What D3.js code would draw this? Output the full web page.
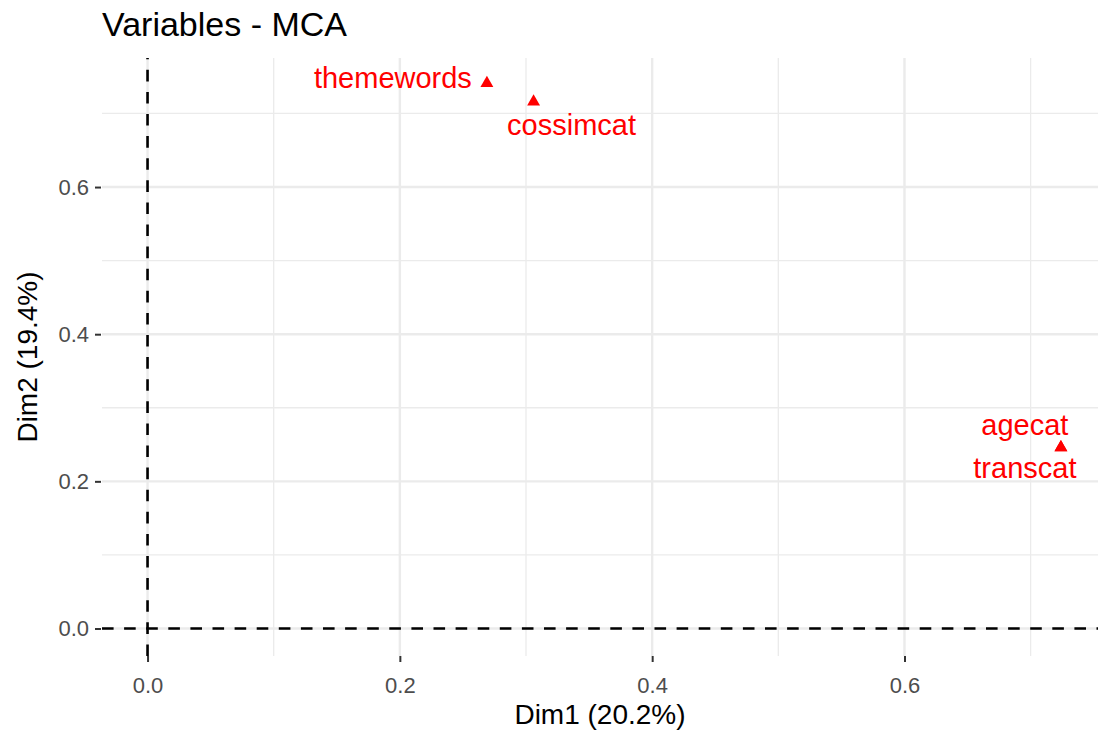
<!DOCTYPE html>
<html>
<head>
<meta charset="utf-8">
<script src="https://cdn.jsdelivr.net/npm/d3@7"></script>
<style>
  html, body { margin: 0; padding: 0; background: #ffffff; }
  svg { display: block; font-family: "Liberation Sans", Arial, Helvetica, sans-serif; }
</style>
</head>
<body>
<svg id="chart" width="1098" height="732"></svg>
<script>
// MCA variable coordinates on the first two dimensions
const variables = ["themewords", "cossimcat", "agecat", "transcat"];
const dim1 = [0.269, 0.306, 0.724, 0.724];
const dim2 = [0.741, 0.716, 0.246, 0.246];

// Axis ticks
const majorTicks = [0, 0.2, 0.4, 0.6];
const minorTicks = [0.1, 0.3, 0.5, 0.7];
const tickLabels = ["0.0", "0.2", "0.4", "0.6"];

const titleText = "Variables - MCA";
const xTitle = "Dim1 (20.2%)";
const yTitle = "Dim2 (19.4%)";

// Label placement around each point (repelled so overlapping labels stay readable)
const labelShift = [
  { dx: -94, dy: 5 },
  { dx: 38, dy: 33 },
  { dx: -36, dy: -12 },
  { dx: -36, dy: 31 }
];

const svg = d3.select("#chart");
const panel = { left: 102, right: 1098, top: 58, bottom: 656 };

const x = d3.scaleLinear().domain([-0.0361, 0.7534]).range([panel.left, panel.right]);
const y = d3.scaleLinear().domain([-0.0374, 0.7754]).range([panel.bottom, panel.top]);

const grid = svg.append("g");
// minor grid
grid.selectAll("line.vminor").data(minorTicks).join("line")
  .attr("x1", d => x(d)).attr("x2", d => x(d))
  .attr("y1", panel.top).attr("y2", panel.bottom)
  .attr("stroke", "#EBEBEB").attr("stroke-width", 1.3);
grid.selectAll("line.hminor").data(minorTicks).join("line")
  .attr("y1", d => y(d)).attr("y2", d => y(d))
  .attr("x1", panel.left).attr("x2", panel.right)
  .attr("stroke", "#EBEBEB").attr("stroke-width", 1.3);
// major grid
grid.selectAll("line.vmajor").data(majorTicks).join("line")
  .attr("x1", d => x(d)).attr("x2", d => x(d))
  .attr("y1", panel.top).attr("y2", panel.bottom)
  .attr("stroke", "#EBEBEB").attr("stroke-width", 2.4);
grid.selectAll("line.hmajor").data(majorTicks).join("line")
  .attr("y1", d => y(d)).attr("y2", d => y(d))
  .attr("x1", panel.left).attr("x2", panel.right)
  .attr("stroke", "#EBEBEB").attr("stroke-width", 2.4);

// Axes with ticks
const xAxis = d3.axisBottom(x).tickValues(majorTicks)
  .tickFormat((d, i) => tickLabels[i]).tickSize(6).tickPadding(15);
const yAxis = d3.axisLeft(y).tickValues(majorTicks)
  .tickFormat((d, i) => tickLabels[i]).tickSize(6).tickPadding(7);

const gx = svg.append("g").attr("transform", `translate(0,${panel.bottom})`).call(xAxis);
const gy = svg.append("g").attr("transform", `translate(${panel.left},0)`).call(yAxis);
[gx, gy].forEach(g => {
  g.select(".domain").remove();
  g.selectAll(".tick line").attr("stroke", "#333333").attr("stroke-width", 2);
  g.selectAll(".tick text").attr("fill", "#4D4D4D")
    .style("font-size", "22px").style("font-family", "'Liberation Sans', Arial, sans-serif");
});
gy.selectAll(".tick line").attr("x2", -6).attr("transform", "translate(-1,0)");

// Reference lines through the origin
svg.append("line")
  .attr("x1", panel.left).attr("x2", panel.right)
  .attr("y1", y(0)).attr("y2", y(0))
  .attr("stroke", "#000").attr("stroke-width", 2.6)
  .attr("stroke-dasharray", "11.6 10.5");
svg.append("line")
  .attr("x1", x(0)).attr("x2", x(0))
  .attr("y1", panel.bottom).attr("y2", panel.top)
  .attr("stroke", "#000").attr("stroke-width", 2.6)
  .attr("stroke-dasharray", "11.6 10.5");

// Points
const pts = variables.map((v, i) => ({ name: v, x: dim1[i], y: dim2[i], s: labelShift[i] }));
svg.append("g").selectAll("path").data(pts).join("path")
  .attr("d", d3.symbol().type(d3.symbolTriangle).size(72))
  .attr("transform", d => `translate(${x(d.x)},${y(d.y)})`)
  .attr("fill", "red");

// Labels
svg.append("g").selectAll("text").data(pts).join("text")
  .attr("x", d => x(d.x) + d.s.dx)
  .attr("y", d => y(d.y) + d.s.dy)
  .attr("text-anchor", "middle")
  .attr("fill", "red")
  .style("font-size", "29px")
  .text(d => d.name);

// Titles
svg.append("text")
  .attr("x", 102).attr("y", 36)
  .attr("fill", "#000")
  .style("font-size", "34px")
  .text(titleText);

svg.append("text")
  .attr("x", (panel.left + panel.right) / 2).attr("y", 724)
  .attr("text-anchor", "middle")
  .attr("fill", "#000")
  .style("font-size", "28px")
  .text(xTitle);

svg.append("text")
  .attr("transform", `translate(37,${(panel.top + panel.bottom) / 2}) rotate(-90)`)
  .attr("text-anchor", "middle")
  .attr("fill", "#000")
  .style("font-size", "28px")
  .text(yTitle);
</script>
</body>
</html>
